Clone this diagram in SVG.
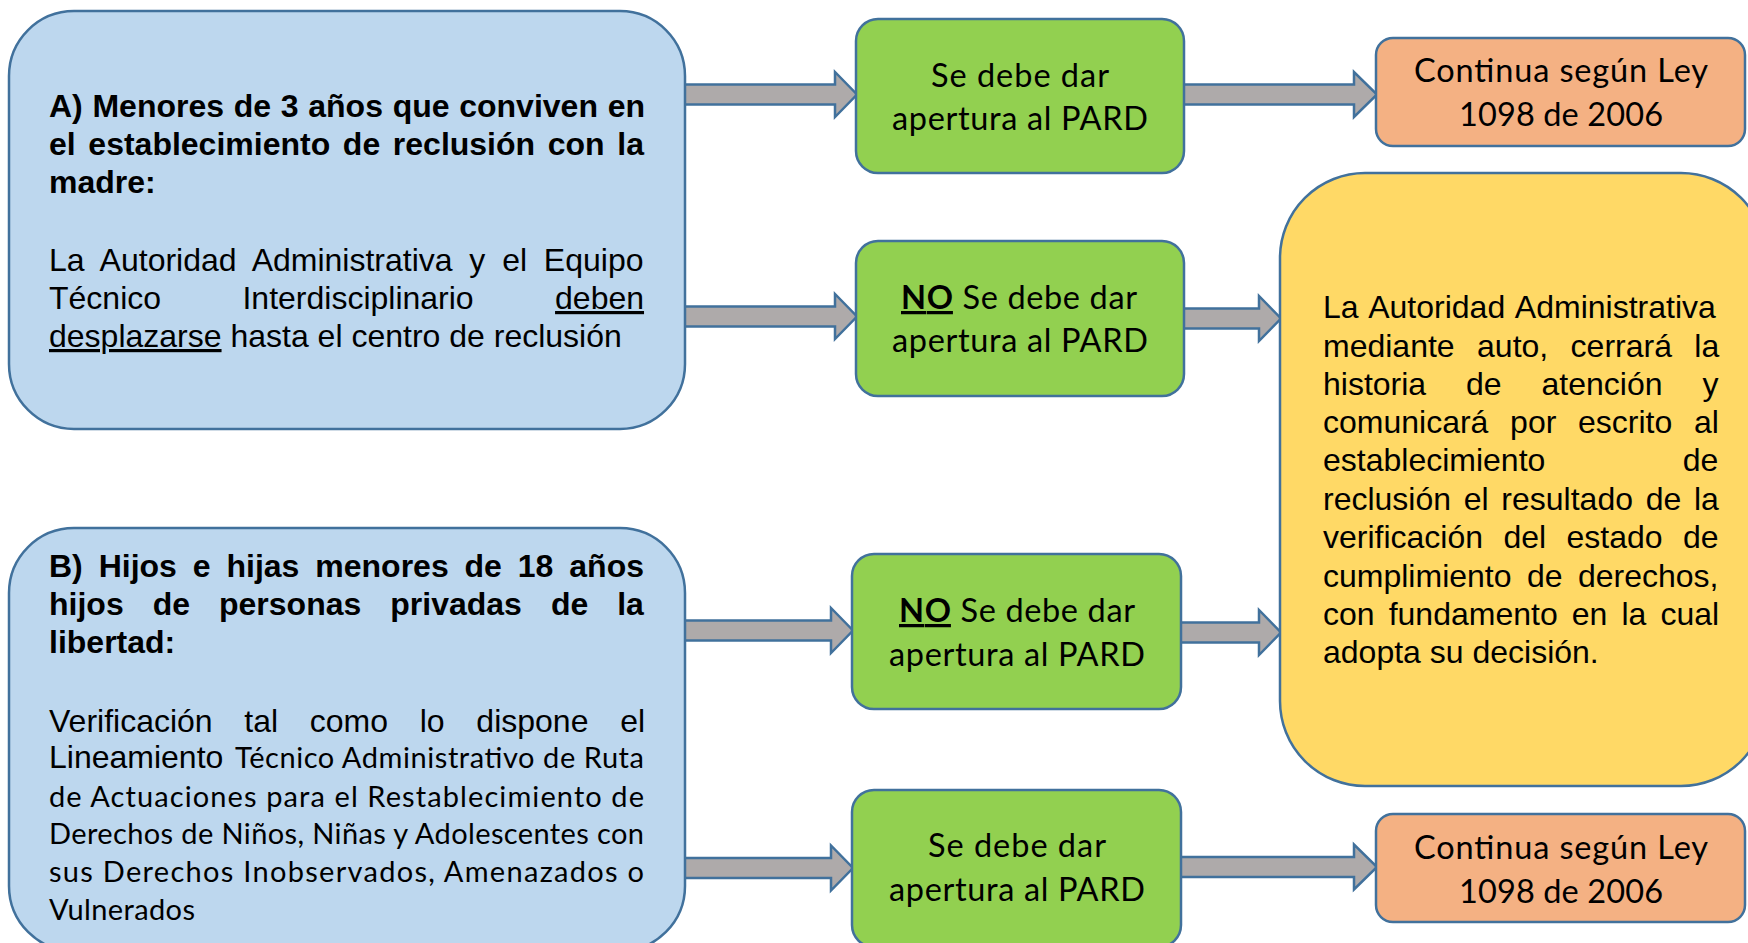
<svg xmlns="http://www.w3.org/2000/svg" width="1748" height="943" viewBox="0 0 1748 943">
<style>
.box{stroke:#41719C;stroke-width:2.5}
.blue{fill:#BDD7EE}.green{fill:#92D050}.orange{fill:#F4B183}.yellow{fill:#FFD966}
.arrow{fill:#AEAAAA;stroke:#41719C;stroke-width:2.5;stroke-linejoin:miter}
.ar{font-family:"Liberation Sans",Arial,sans-serif;font-size:32px;fill:#000}
.b{font-weight:bold}
.cal{font-family:Lato,"Open Sans",sans-serif;fill:#000}
.c29{font-size:29px}
.c33{font-size:32.5px}
.mid{text-anchor:middle}
.u{text-decoration:underline}
</style>
<rect width="1748" height="943" fill="#FFFFFF"/>
<g id="connectors">
<polygon class="arrow" points="680,84.5 835,84.5 835,72 857,94.5 835,117 835,104.5 680,104.5"/>
<polygon class="arrow" points="680,306.5 835,306.5 835,294 857,316.5 835,339 835,326.5 680,326.5"/>
<polygon class="arrow" points="1180,84.5 1354,84.5 1354,72 1377,94.5 1354,117 1354,104.5 1180,104.5"/>
<polygon class="arrow" points="1180,308.5 1259,308.5 1259,296 1281,318.5 1259,341 1259,328.5 1180,328.5"/>
<polygon class="arrow" points="680,620.5 831,620.5 831,608 853,630.5 831,653 831,640.5 680,640.5"/>
<polygon class="arrow" points="1177,622.5 1259,622.5 1259,610 1281,632.5 1259,655 1259,642.5 1177,642.5"/>
<polygon class="arrow" points="680,858 831,858 831,845.5 853,868 831,890.5 831,878 680,878"/>
<polygon class="arrow" points="1177,857 1354,857 1354,844.5 1377,867 1354,889.5 1354,877 1177,877"/>
</g>
<g id="nodeA">
<rect class="box blue" x="9" y="11" width="676" height="418" rx="65" ry="65"/>
<text class="ar b" x="49" y="117" word-spacing="0.8">A) Menores de 3 años que conviven en</text>
<text class="ar b" x="49" y="155" word-spacing="3.76">el establecimiento de reclusión con la</text>
<text class="ar b" x="49" y="193">madre:</text>
<text class="ar" x="49" y="271" word-spacing="7.9">La Autoridad Administrativa y el Equipo</text>
<text class="ar" x="49" y="309" word-spacing="72.5">Técnico Interdisciplinario <tspan class="u">deben</tspan></text>
<text class="ar" x="49" y="347"><tspan class="u">desplazarse</tspan> hasta el centro de reclusión</text>
</g>
<g id="nodeB">
<rect class="box blue" x="9" y="528" width="676" height="423" rx="65" ry="65"/>
<text class="ar b" x="49" y="577" word-spacing="7.0">B) Hijos e hijas menores de 18 años</text>
<text class="ar b" x="49" y="615" word-spacing="20.1">hijos de personas privadas de la</text>
<text class="ar b" x="49" y="653">libertad:</text>
<text class="ar" x="49" y="732" word-spacing="22.8">Verificación tal como lo dispone el</text>
<text class="ar" x="49" y="768">Lineamiento</text>
<text class="cal c29" x="235" y="768" textLength="409" lengthAdjust="spacing">Técnico Administrativo de Ruta</text>
<text class="cal c29" x="49" y="807" textLength="595" lengthAdjust="spacing">de Actuaciones para el Restablecimiento de</text>
<text class="cal c29" x="49" y="844" textLength="595" lengthAdjust="spacing">Derechos de Niños, Niñas y Adolescentes con</text>
<text class="cal c29" x="49" y="882" textLength="595" lengthAdjust="spacing">sus Derechos Inobservados, Amenazados o</text>
<text class="cal c29" x="49" y="920" textLength="146" lengthAdjust="spacing">Vulnerados</text>
</g>
<g id="green1">
<rect class="box green" x="856" y="19" width="328" height="154" rx="22" ry="22"/>
<text class="cal c33 mid" x="1020" y="87" textLength="178" lengthAdjust="spacing">Se debe dar</text>
<text class="cal c33 mid" x="1020" y="130" textLength="256" lengthAdjust="spacing">apertura al PARD</text>
</g>
<g id="green2">
<rect class="box green" x="856" y="241" width="328" height="155" rx="22" ry="22"/>
<text class="cal c33 mid" x="1019" y="309" textLength="236" lengthAdjust="spacing"><tspan class="b u">NO</tspan> Se debe dar</text>
<text class="cal c33 mid" x="1020" y="352" textLength="256" lengthAdjust="spacing">apertura al PARD</text>
</g>
<g id="green3">
<rect class="box green" x="852" y="554" width="329" height="155" rx="22" ry="22"/>
<text class="cal c33 mid" x="1017" y="622" textLength="236" lengthAdjust="spacing"><tspan class="b u">NO</tspan> Se debe dar</text>
<text class="cal c33 mid" x="1017" y="666" textLength="256" lengthAdjust="spacing">apertura al PARD</text>
</g>
<g id="green4">
<rect class="box green" x="852" y="790" width="329" height="157" rx="22" ry="22"/>
<text class="cal c33 mid" x="1017" y="857" textLength="178" lengthAdjust="spacing">Se debe dar</text>
<text class="cal c33 mid" x="1017" y="901" textLength="256" lengthAdjust="spacing">apertura al PARD</text>
</g>
<g id="orange1">
<rect class="box orange" x="1376" y="38" width="369" height="108" rx="17" ry="17"/>
<text class="cal c33 mid" x="1561" y="82" textLength="294" lengthAdjust="spacing">Continua según Ley</text>
<text class="cal c33 mid" x="1561" y="126" textLength="204" lengthAdjust="spacing">1098 de 2006</text>
</g>
<g id="orange2">
<rect class="box orange" x="1376" y="814" width="369" height="108" rx="17" ry="17"/>
<text class="cal c33 mid" x="1561" y="859" textLength="294" lengthAdjust="spacing">Continua según Ley</text>
<text class="cal c33 mid" x="1561" y="903" textLength="204" lengthAdjust="spacing">1098 de 2006</text>
</g>
<g id="yellow">
<rect class="box yellow" x="1280" y="173" width="486" height="613" rx="85" ry="85"/>
<text class="ar" x="1323" y="318" word-spacing="2.5">La Autoridad Administrativa</text>
<text class="ar" x="1323" y="357" word-spacing="13.5">mediante auto, cerrará la</text>
<text class="ar" x="1323" y="395" word-spacing="31">historia de atención y</text>
<text class="ar" x="1323" y="433" word-spacing="12.8">comunicará por escrito al</text>
<text class="ar" x="1323" y="471" word-spacing="128.5">establecimiento de</text>
<text class="ar" x="1323" y="510" word-spacing="3.8">reclusión el resultado de la</text>
<text class="ar" x="1323" y="548" word-spacing="11.5">verificación del estado de</text>
<text class="ar" x="1323" y="587" word-spacing="6.5">cumplimiento de derechos,</text>
<text class="ar" x="1323" y="625" word-spacing="5.2">con fundamento en la cual</text>
<text class="ar" x="1323" y="663">adopta su decisión.</text>
</g>
</svg>
